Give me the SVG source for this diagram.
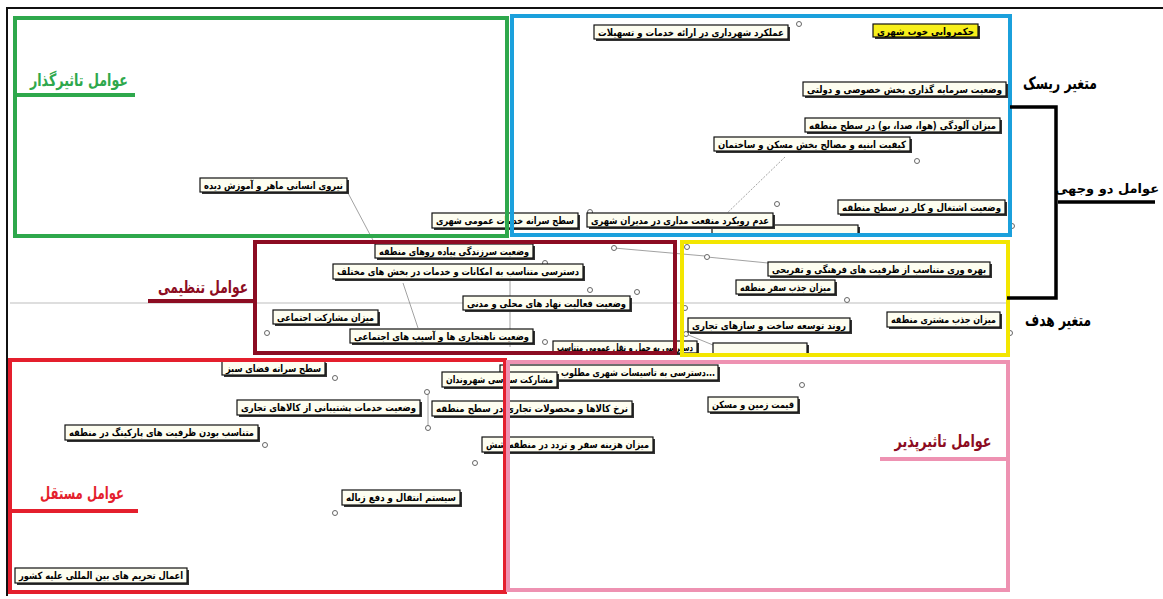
<svg xmlns="http://www.w3.org/2000/svg" width="1163" height="599" viewBox="0 0 1163 599">
<style>
.nd .s{fill:#333}
.nd .b{fill:#fdfdf0;stroke:#111;stroke-width:1.2}
.nd .y{fill:#f7ef1a;stroke:#111;stroke-width:1.2}
.nd text{font-family:"DejaVu Sans","Noto Sans",sans-serif;font-size:10px;font-weight:bold;fill:#000;text-anchor:middle}
.hd{font-family:"DejaVu Sans","Noto Sans",sans-serif;font-weight:bold;font-size:17px;text-anchor:middle}
.fr{fill:none;stroke-width:4}
.cn line{stroke:#8a8a8a;stroke-width:0.8;fill:none}
.pin{fill:#fff;stroke:#666;stroke-width:1}
.ul{stroke-width:4}
.bk{fill:none;stroke:#000;stroke-width:3.5}
</style>
<rect width="1163" height="599" fill="#fff"/>
<!-- outer frame -->
<line x1="6" y1="8" x2="1163" y2="8" stroke="#111" stroke-width="2"/>
<line x1="7" y1="8" x2="7" y2="596" stroke="#111" stroke-width="2"/>
<!-- axis -->
<line x1="10" y1="303" x2="1008" y2="303" stroke="#bdbdbd" stroke-width="1"/>

<g id="connectors" class="cn">
<line x1="348" y1="193" x2="375" y2="244"/>
<line x1="785" y1="157" x2="722" y2="218" stroke-dasharray="2 1.5"/>
<line x1="403" y1="283" x2="418" y2="328"/>
<line x1="510" y1="279" x2="510" y2="347"/>
<line x1="614" y1="248" x2="705" y2="256"/>
<line x1="707" y1="257" x2="768" y2="263"/>
<line x1="428" y1="392" x2="428" y2="428"/>
<line x1="686" y1="334" x2="713" y2="345"/>
<circle class="pin" cx="799" cy="24" r="2.5"/>
<circle class="pin" cx="917" cy="161" r="2.5"/>
<circle class="pin" cx="777" cy="204" r="2.5"/>
<circle class="pin" cx="590" cy="212" r="2.5"/>
<circle class="pin" cx="614" cy="248" r="2.5"/>
<circle class="pin" cx="545" cy="263" r="2.5"/>
<circle class="pin" cx="590" cy="290" r="2.5"/>
<circle class="pin" cx="637" cy="292" r="2.5"/>
<circle class="pin" cx="545" cy="342" r="2.5"/>
<circle class="pin" cx="707" cy="257" r="2.5"/>
<circle class="pin" cx="687" cy="247" r="2.5"/>
<circle class="pin" cx="685" cy="308" r="2.5"/>
<circle class="pin" cx="686" cy="334" r="2.5"/>
<circle class="pin" cx="847" cy="300" r="2.5"/>
<circle class="pin" cx="1010" cy="333" r="2.5"/>
<circle class="pin" cx="267" cy="333" r="2.5"/>
<circle class="pin" cx="335" cy="378" r="2.5"/>
<circle class="pin" cx="265" cy="445" r="2.5"/>
<circle class="pin" cx="335" cy="513" r="2.5"/>
<circle class="pin" cx="427" cy="392" r="2.5"/>
<circle class="pin" cx="428" cy="428" r="2.5"/>
<circle class="pin" cx="475" cy="463" r="2.5"/>
<circle class="pin" cx="802" cy="385" r="2.5"/>
<circle class="pin" cx="1012" cy="226" r="2.5"/>
</g>

<!-- nodes -->
<g id="n1" class="nd"><rect class="s" x="596" y="27" width="194" height="14"/><rect class="b" x="594" y="25" width="194" height="14"/><text x="691" y="35.5" textLength="186" lengthAdjust="spacingAndGlyphs" direction="rtl">عملکرد شهرداری در ارائه خدمات و تسهیلات</text></g>
<g id="n2" class="nd"><rect class="s" x="875" y="26" width="105" height="13"/><rect class="y" x="873" y="24" width="105" height="13"/><text x="925.5" y="34.5" textLength="97" lengthAdjust="spacingAndGlyphs" direction="rtl">حکمروایی خوب شهری</text></g>
<g id="n3" class="nd"><rect class="s" x="805" y="84" width="203" height="14"/><rect class="b" x="803" y="82" width="203" height="14"/><text x="904.5" y="92.5" textLength="195" lengthAdjust="spacingAndGlyphs" direction="rtl">وضعیت سرمایه گذاری بخش خصوصی و دولتی</text></g>
<g id="n4" class="nd"><rect class="s" x="807" y="120" width="195" height="14"/><rect class="b" x="805" y="118" width="195" height="14"/><text x="902.5" y="128.5" textLength="187" lengthAdjust="spacingAndGlyphs" direction="rtl">میزان آلودگی (هوا، صدا، بو) در سطح منطقه</text></g>
<g id="n5" class="nd"><rect class="s" x="716" y="139" width="196" height="14"/><rect class="b" x="714" y="137" width="196" height="14"/><text x="812" y="147.5" textLength="188" lengthAdjust="spacingAndGlyphs" direction="rtl">کیفیت ابنیه و مصالح بخش مسکن و ساختمان</text></g>
<g id="n6" class="nd"><rect class="s" x="840" y="202" width="167" height="14"/><rect class="b" x="838" y="200" width="167" height="14"/><text x="921.5" y="210.5" textLength="159" lengthAdjust="spacingAndGlyphs" direction="rtl">وضعیت اشتغال و کار در سطح منطقه</text></g>
<g id="n9" class="nd"><rect class="s" x="714" y="227" width="146" height="10"/><rect class="b" x="712" y="225" width="146" height="10"/></g>
<g id="n7" class="nd"><rect class="s" x="589" y="215" width="186" height="14"/><rect class="b" x="587" y="213" width="186" height="14"/><text x="680" y="223.5" textLength="178" lengthAdjust="spacingAndGlyphs" direction="rtl">عدم رویکرد منفعت مداری در مدیران شهری</text></g>
<g id="n8" class="nd"><rect class="s" x="434" y="215" width="146" height="15"/><rect class="b" x="432" y="213" width="146" height="15"/><text x="505" y="224" textLength="138" lengthAdjust="spacingAndGlyphs" direction="rtl">سطح سرانه خدمات عمومی شهری</text></g>
<g id="n10" class="nd"><rect class="s" x="202" y="180" width="147" height="14"/><rect class="b" x="200" y="178" width="147" height="14"/><text x="273.5" y="188.5" textLength="139" lengthAdjust="spacingAndGlyphs" direction="rtl">نیروی انسانی ماهر و آموزش دیده</text></g>
<g id="n11" class="nd"><rect class="s" x="377" y="246" width="158" height="14"/><rect class="b" x="375" y="244" width="158" height="14"/><text x="454" y="254.5" textLength="150" lengthAdjust="spacingAndGlyphs" direction="rtl">وضعیت سرزندگی پیاده روهای منطقه</text></g>
<g id="n12" class="nd"><rect class="s" x="335" y="266" width="250" height="15"/><rect class="b" x="333" y="264" width="250" height="15"/><text x="458" y="275" textLength="242" lengthAdjust="spacingAndGlyphs" direction="rtl">دسترسی متناسب به امکانات و خدمات در بخش های مختلف</text></g>
<g id="n13" class="nd"><rect class="s" x="465" y="298" width="167" height="14"/><rect class="b" x="463" y="296" width="167" height="14"/><text x="546.5" y="306.5" textLength="159" lengthAdjust="spacingAndGlyphs" direction="rtl">وضعیت فعالیت نهاد های محلی و مدنی</text></g>
<g id="n14" class="nd"><rect class="s" x="275" y="312" width="105" height="14"/><rect class="b" x="273" y="310" width="105" height="14"/><text x="325.5" y="320.5" textLength="97" lengthAdjust="spacingAndGlyphs" direction="rtl">میزان مشارکت اجتماعی</text></g>
<g id="n15" class="nd"><rect class="s" x="352" y="331" width="183" height="14"/><rect class="b" x="350" y="329" width="183" height="14"/><text x="441.5" y="339.5" textLength="175" lengthAdjust="spacingAndGlyphs" direction="rtl">وضعیت ناهنجاری ها و آسیب های اجتماعی</text></g>
<g id="n16" class="nd"><rect class="s" x="555" y="343" width="144" height="12"/><rect class="b" x="553" y="341" width="144" height="12"/><text x="625" y="350.5" textLength="136" lengthAdjust="spacingAndGlyphs" direction="rtl">دسترسی به حمل و نقل عمومی متناسب</text></g>
<g id="n17" class="nd"><rect class="s" x="770" y="264" width="222" height="14"/><rect class="b" x="768" y="262" width="222" height="14"/><text x="879" y="272.5" textLength="214" lengthAdjust="spacingAndGlyphs" direction="rtl">بهره وری متناسب از ظرفیت های فرهنگی و تفریحی</text></g>
<g id="n18" class="nd"><rect class="s" x="738" y="282" width="99" height="14"/><rect class="b" x="736" y="280" width="99" height="14"/><text x="785.5" y="290.5" textLength="91" lengthAdjust="spacingAndGlyphs" direction="rtl">میزان جذب سفر منطقه</text></g>
<g id="n19" class="nd"><rect class="s" x="889" y="314" width="113" height="15"/><rect class="b" x="887" y="312" width="113" height="15"/><text x="943.5" y="323" textLength="105" lengthAdjust="spacingAndGlyphs" direction="rtl">میزان جذب مشتری منطقه</text></g>
<g id="n20" class="nd"><rect class="s" x="690" y="320" width="162" height="14"/><rect class="b" x="688" y="318" width="162" height="14"/><text x="769" y="328.5" textLength="154" lengthAdjust="spacingAndGlyphs" direction="rtl">روند توسعه ساخت و سازهای تجاری</text></g>
<g id="n21" class="nd"><rect class="s" x="715" y="345" width="94" height="11"/><rect class="b" x="713" y="343" width="94" height="11"/></g>
<g id="n22" class="nd"><rect class="s" x="224" y="363" width="103" height="14"/><rect class="b" x="222" y="361" width="103" height="14"/><text x="273.5" y="371.5" textLength="95" lengthAdjust="spacingAndGlyphs" direction="rtl">سطح سرانه فضای سبز</text></g>
<g id="n23" class="nd"><rect class="s" x="239" y="402" width="183" height="15"/><rect class="b" x="237" y="400" width="183" height="15"/><text x="328.5" y="411" textLength="175" lengthAdjust="spacingAndGlyphs" direction="rtl">وضعیت خدمات پشتیبانی از کالاهای تجاری</text></g>
<g id="n24" class="nd"><rect class="s" x="67" y="427" width="193" height="15"/><rect class="b" x="65" y="425" width="193" height="15"/><text x="161.5" y="436" textLength="185" lengthAdjust="spacingAndGlyphs" direction="rtl">متناسب بودن ظرفیت های پارکینگ در منطقه</text></g>
<g id="n25" class="nd"><rect class="s" x="344" y="492" width="118" height="15"/><rect class="b" x="342" y="490" width="118" height="15"/><text x="401" y="501" textLength="110" lengthAdjust="spacingAndGlyphs" direction="rtl">سیستم انتقال و دفع زباله</text></g>
<g id="n26" class="nd"><rect class="s" x="17" y="570" width="172" height="15"/><rect class="b" x="15" y="568" width="172" height="15"/><text x="101" y="579" textLength="164" lengthAdjust="spacingAndGlyphs" direction="rtl">اعمال تحریم های بین المللی علیه کشور</text></g>
<g id="n30" class="nd"><rect class="s" x="502" y="367" width="218" height="15"/><rect class="b" x="500" y="365" width="218" height="15"/><text x="638" y="376" textLength="154" lengthAdjust="spacingAndGlyphs" direction="rtl">...دسترسی به تاسیسات شهری مطلوب</text></g>
<g id="n27" class="nd"><rect class="s" x="444" y="374" width="115" height="15"/><rect class="b" x="442" y="372" width="115" height="15"/><text x="499.5" y="383" textLength="107" lengthAdjust="spacingAndGlyphs" direction="rtl">مشارکت سیاسی شهروندان</text></g>
<g id="n28" class="nd"><rect class="s" x="434" y="403" width="200" height="15"/><rect class="b" x="432" y="401" width="200" height="15"/><text x="532" y="412" textLength="192" lengthAdjust="spacingAndGlyphs" direction="rtl">نرخ کالاها و محصولات تجاری در سطح منطقه</text></g>
<g id="n29" class="nd"><rect class="s" x="484" y="439" width="171" height="15"/><rect class="b" x="482" y="437" width="171" height="15"/><text x="567.5" y="448" textLength="163" lengthAdjust="spacingAndGlyphs" direction="rtl">میزان هزینه سفر و تردد در منطقه شش</text></g>
<g id="n31" class="nd"><rect class="s" x="710" y="399" width="90" height="15"/><rect class="b" x="708" y="397" width="90" height="15"/><text x="753" y="408" textLength="82" lengthAdjust="spacingAndGlyphs" direction="rtl">قیمت زمین و مسکن</text></g>

<!-- zone frames -->
<g id="zones">
<rect id="z-green" class="fr" x="15" y="18" width="492" height="218" stroke="#2ea84c"/>
<rect id="z-blue" class="fr" x="512" y="16" width="498" height="219" stroke="#1ba0dc"/>
<rect id="z-maroon" class="fr" x="255" y="242" width="420" height="111" stroke="#8c0c22"/>
<rect id="z-yellow" class="fr" x="682" y="242" width="326" height="113" stroke="#f3e600" stroke-width="5"/>
<rect id="z-red" class="fr" x="10" y="360" width="495" height="232" stroke="#e41f2d"/>
<rect id="z-pink" class="fr" x="508" y="362" width="500" height="228" stroke="#ee92b2" stroke-width="3"/>
</g>

<!-- zone headings -->
<g id="h-green"><text class="hd" x="79" y="86" fill="#2ea84c" textLength="98" lengthAdjust="spacingAndGlyphs" direction="rtl">عوامل تاثیرگذار</text><line class="ul" x1="15" y1="95" x2="135" y2="95" stroke="#2ea84c"/></g>
<g id="h-maroon"><text class="hd" x="203" y="293" fill="#8c0c22" textLength="90" lengthAdjust="spacingAndGlyphs" direction="rtl">عوامل تنظیمی</text><line class="ul" x1="148" y1="301" x2="255" y2="301" stroke="#8c0c22"/></g>
<g id="h-red"><text class="hd" x="82" y="499" fill="#e41f2d" textLength="84" lengthAdjust="spacingAndGlyphs" direction="rtl">عوامل مستقل</text><line class="ul" x1="10" y1="511" x2="138" y2="511" stroke="#e41f2d"/></g>
<g id="h-pink"><text class="hd" x="943" y="447" fill="#8c0c22" textLength="97" lengthAdjust="spacingAndGlyphs" direction="rtl">عوامل تاثیرپذیر</text><line class="ul" x1="880" y1="459" x2="1006" y2="459" stroke="#ee92b2"/></g>

<!-- bracket -->
<g id="bracket">
<polyline class="bk" points="1010,107 1056,107 1056,298 1007,298"/>
<line class="bk" x1="1058" y1="202" x2="1155" y2="202"/>
<text class="hd" x="1060" y="89" fill="#000" textLength="74" lengthAdjust="spacingAndGlyphs" direction="rtl">متغیر ریسک</text>
<text class="hd" x="1107" y="193" fill="#000" style="font-size:13px">عوامل دو وجهی</text>
<text class="hd" x="1058" y="326" fill="#000" textLength="66" lengthAdjust="spacingAndGlyphs" direction="rtl">متغیر هدف</text>
</g>
</svg>
